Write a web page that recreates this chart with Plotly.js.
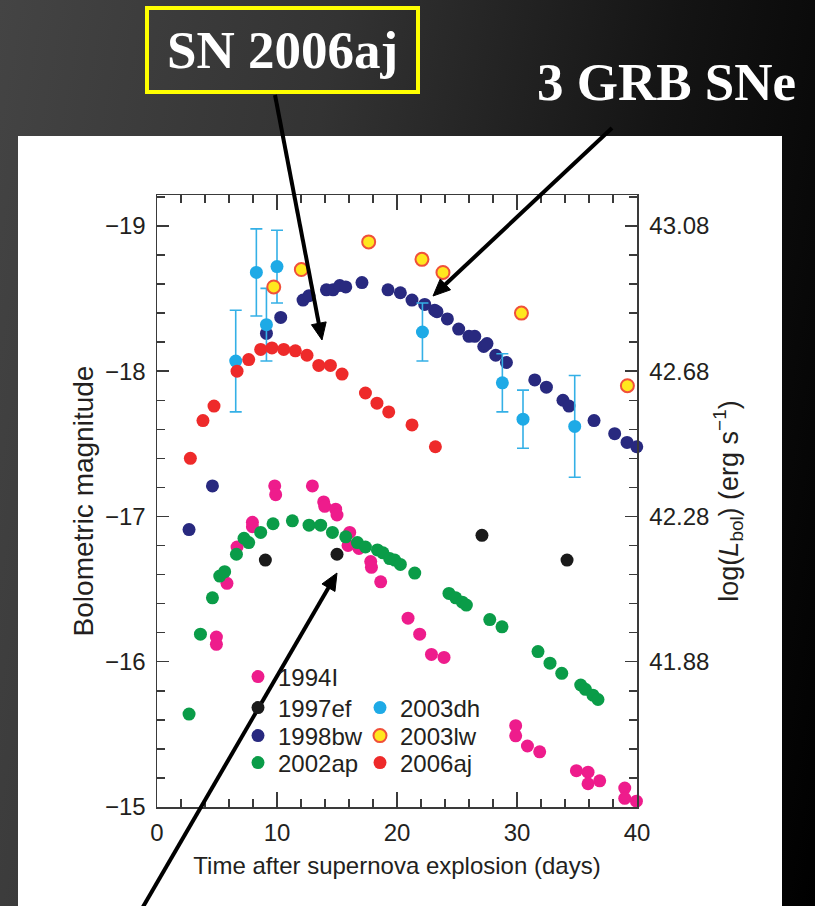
<!DOCTYPE html>
<html><head><meta charset="utf-8">
<script src="https://cdn.plot.ly/plotly-3.0.1.min.js"></script>
<style>
html,body{margin:0;padding:0;width:815px;height:906px;overflow:hidden;
background:linear-gradient(100deg,#444444 0%,#333333 35%,#141414 70%,#000000 100%);}
#chart{width:815px;height:906px;}
</style></head><body><div id="chart"></div>
<script>
// ---- data (days after explosion, bolometric magnitude) ----
const sn1994I_day = [4.95,4.95,5.83,6.67,7.95,7.95,9.81,9.89,12.95,13.89,13.98,14.89,15.0,16.06,15.92,16.83,17.81,17.87,18.64,20.92,21.89,22.87,23.92,29.89,29.89,30.87,31.89,34.95,35.92,35.92,36.89,38.98,38.98,39.95];
const sn1994I_mag = [-16.17,-16.12,-16.54,-16.79,-16.96,-16.93,-17.21,-17.15,-17.21,-17.10,-17.07,-17.05,-17.01,-16.89,-16.80,-16.78,-16.69,-16.65,-16.55,-16.30,-16.19,-16.05,-16.03,-15.56,-15.49,-15.42,-15.38,-15.25,-15.24,-15.16,-15.18,-15.13,-15.06,-15.04];

const sn1997ef_day = [9.03,15.0,27.08,34.17];
const sn1997ef_mag = [-16.70,-16.74,-16.87,-16.70];

const sn1998bw_day = [2.67,4.62,9.12,10.31,12.17,12.67,14.12,14.67,15.23,15.73,17.08,19.25,20.28,21.25,22.31,23.14,23.33,24.2,25.14,26.0,26.48,27.23,27.5,28.23,29.12,31.48,32.45,33.83,34.33,36.42,38.14,39.17,39.98];
const sn1998bw_mag = [-16.91,-17.21,-18.26,-18.37,-18.49,-18.52,-18.56,-18.56,-18.59,-18.58,-18.61,-18.56,-18.54,-18.49,-18.46,-18.42,-18.41,-18.36,-18.29,-18.24,-18.24,-18.17,-18.19,-18.11,-18.06,-17.94,-17.89,-17.80,-17.76,-17.66,-17.57,-17.51,-17.48];

const sn2002ap_day = [2.67,3.62,4.62,5.23,5.64,6.62,7.25,7.64,8.64,9.67,11.28,12.67,13.64,14.62,15.73,16.7,17.37,18.37,18.83,19.39,19.81,20.28,21.48,24.33,24.89,25.45,25.78,27.73,28.75,31.75,32.75,33.73,35.31,35.7,36.33,36.75];
const sn2002ap_mag = [-15.64,-16.19,-16.44,-16.59,-16.62,-16.74,-16.85,-16.82,-16.89,-16.95,-16.97,-16.94,-16.94,-16.89,-16.86,-16.82,-16.79,-16.77,-16.75,-16.71,-16.70,-16.67,-16.61,-16.47,-16.44,-16.41,-16.39,-16.29,-16.24,-16.07,-15.99,-15.92,-15.84,-15.81,-15.77,-15.74];

const sn2003dh_day = [6.56,8.28,9.12,10.0,22.12,28.78,30.5,34.81];
const sn2003dh_mag = [-18.07,-18.68,-18.32,-18.72,-18.27,-17.92,-17.67,-17.62];
const sn2003dh_err = [0.35,0.30,0.25,0.25,0.20,0.20,0.20,0.35];

const sn2003lw_day = [9.73,12.03,17.64,22.08,23.83,30.37,39.2];
const sn2003lw_mag = [-18.58,-18.70,-18.89,-18.77,-18.68,-18.40,-17.90];

const sn2006aj_day = [2.78,3.83,4.75,6.67,7.64,8.64,9.58,10.56,11.53,12.5,13.48,14.45,15.42,17.37,18.33,19.31,21.25,23.2];
const sn2006aj_mag = [-17.40,-17.66,-17.76,-18.00,-18.08,-18.15,-18.16,-18.15,-18.14,-18.11,-18.04,-18.04,-17.98,-17.85,-17.78,-17.72,-17.63,-17.48];

const xTickVals = [0,10,20,30,40];
const yTickVals = [-19,-18,-17,-16,-15];
const logLTickVals = [-19,-18,-17,-16];
const logLTickText = ['43.08','42.68','42.28','41.88'];

// ---- layout geometry ----
const W = 815, H = 906;
const M = {l:157, r:178, t:195, b:99};
const pw = W - M.l - M.r, ph = H - M.t - M.b;
const pX = px => (px - M.l) / pw;
const pY = py => (H - M.b - py) / ph;

const SANS = 'Liberation Sans, Arial, Helvetica, sans-serif';
const SERIF = 'Liberation Serif, Times New Roman, serif';
const INK = '#231f20';
const AX = '#3a3a3a';

function pts(name, x, y, color, legend, extra) {
  return Object.assign({
    type:'scatter', mode:'markers', name:name, x:x, y:y,
    marker:{size:13, color:color, line:{width:0}},
    legend:legend, cliponaxis:false, hoverinfo:'skip'
  }, extra || {});
}

const traces = [
  pts('1994I', sn1994I_day, sn1994I_mag, '#ee1c8c', 'legend'),
  pts('1997ef', sn1997ef_day, sn1997ef_mag, '#1a1a1a', 'legend2'),
  pts('2002ap', sn2002ap_day, sn2002ap_mag, '#0a9c48', 'legend4'),
  pts('1998bw', sn1998bw_day, sn1998bw_mag, '#28297f', 'legend3'),
  pts('2003dh', sn2003dh_day, sn2003dh_mag, '#1eaae6', 'legend5',
      {error_y:{type:'data', array:sn2003dh_err, visible:true, color:'#34b0e6', thickness:1.6, width:6}}),
  pts('2003lw', sn2003lw_day, sn2003lw_mag, '#ffe71e', 'legend6',
      {marker:{size:13, color:'#ffe71e', line:{width:2, color:'#f0503a'}}}),
  // 2006aj is plotted against the right-hand axis (same magnitude scale)
  pts('2006aj', sn2006aj_day, sn2006aj_mag, '#ee2a2a', 'legend7', {yaxis:'y2'})
];

const yr = [-15, -19.213];
const axCommon = {
  showline:true, linecolor:AX, linewidth:1.5, showgrid:false, zeroline:false,
  ticks:'inside', tickcolor:AX, tickwidth:1.5,
  tickfont:{family:SANS, size:24, color:INK}
};

// one single-entry legend per supernova, placed as in the two-column key
function leg(leftPx, rowPx) {
  return {x:pX(leftPx), y:pY(rowPx), xanchor:'left', yanchor:'middle',
          bgcolor:'rgba(0,0,0,0)', borderwidth:0,
          font:{family:SANS, size:24, color:INK}, itemclick:false, itemdoubleclick:false};
}

// arrows built from a shaft line and a filled triangular head (paper coords)
function arrowShapes(sx, sy, tx, ty) {
  const dx = tx - sx, dy = ty - sy, len = Math.hypot(dx, dy);
  const ux = dx / len, uy = dy / len, nx = -uy, ny = ux;
  const L = 17, hw = 7.5;
  const bx = tx - L * ux, by = ty - L * uy;
  const c1 = [bx + hw * nx, by + hw * ny], c2 = [bx - hw * nx, by - hw * ny];
  const P = (x, y) => pX(x) + ',' + pY(y);
  return [
    {type:'line', xref:'paper', yref:'paper', x0:pX(sx), y0:pY(sy), x1:pX(bx + 2*ux), y1:pY(by + 2*uy),
     line:{color:'#000', width:4}},
    {type:'path', xref:'paper', yref:'paper',
     path:'M' + P(tx, ty) + ' L' + P(c1[0], c1[1]) + ' L' + P(c2[0], c2[1]) + ' Z',
     fillcolor:'#000', line:{color:'#000', width:1}}
  ];
}

const layout = {
  width:W, height:H, margin:M,
  paper_bgcolor:'rgba(0,0,0,0)', plot_bgcolor:'#ffffff',
  font:{family:SANS, color:INK},
  showlegend:true,
  xaxis:Object.assign({}, axCommon, {
    range:[0,40], tickvals:xTickVals, ticklen:15, mirror:'ticks',
    ticklabelstandoff:4,
    minor:{dtick:2, ticklen:8, tickwidth:1.5, tickcolor:AX, ticks:'inside'},
    title:{text:'Time after supernova explosion (days)', font:{family:SANS, size:24, color:INK}, standoff:12}
  }),
  yaxis:Object.assign({}, axCommon, {
    range:yr, tickvals:yTickVals, ticklen:12, mirror:false,
    ticklabelstandoff:5,
    minor:{dtick:0.2, tick0:-19, ticklen:8, tickwidth:1.5, tickcolor:AX, ticks:'inside'},
    title:{text:'Bolometric magnitude', font:{family:SANS, size:28, color:INK}, standoff:3}
  }),
  yaxis2:Object.assign({}, axCommon, {
    overlaying:'y', side:'right', range:yr, tickvals:logLTickVals, ticktext:logLTickText,
    ticklen:12, ticklabelstandoff:6,
    minor:{dtick:0.2, tick0:-19, ticklen:8, tickwidth:1.5, tickcolor:AX, ticks:'inside'},
    title:{text:'log(<i>L</i><sub>bol</sub>) (erg s<sup>−1</sup>)', font:{family:SANS, size:27, color:INK}, standoff:10}
  }),
  legend:leg(238, 677),
  legend2:leg(238, 708),
  legend3:leg(238, 736),
  legend4:leg(238, 763),
  legend5:leg(360, 708),
  legend6:leg(360, 736),
  legend7:leg(360, 763),
  shapes:[{type:'rect', xref:'paper', yref:'paper', layer:'below',
           x0:pX(18), x1:pX(782), y0:pY(906), y1:pY(136),
           fillcolor:'#ffffff', line:{width:0}}]
    .concat(arrowShapes(275, 95, 322, 340))
    .concat(arrowShapes(612, 128, 433, 296))
    .concat(arrowShapes(140, 912, 337, 573)),
  annotations:[
    {xref:'paper', yref:'paper', x:pX(282.5), y:pY(50.5), xanchor:'center', yanchor:'middle',
     text:'SN 2006aj', showarrow:false, width:267, height:80, borderpad:0,
     bordercolor:'#ffff00', borderwidth:4, bgcolor:'rgba(0,0,0,0)',
     font:{family:SERIF, size:53, color:'#ffffff', weight:'bold'}},
    {xref:'paper', yref:'paper', x:pX(666), y:pY(82), xanchor:'center', yanchor:'middle',
     text:'3 GRB SNe', showarrow:false,
     font:{family:SERIF, size:53, color:'#ffffff', weight:'bold'}}
  ]
};

Plotly.newPlot('chart', traces, layout, {staticPlot:true, displayModeBar:false});
</script>
</body></html>
